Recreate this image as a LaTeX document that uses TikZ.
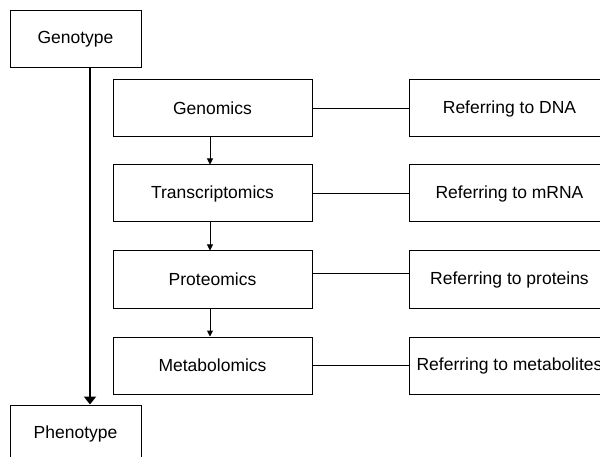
\documentclass[tikz,border=0pt]{standalone}
\usepackage{fontspec}
\setmainfont{Liberation Sans}
\usetikzlibrary{arrows.meta}
\begin{document}
\begin{tikzpicture}[x=1pt,y=-1pt,
  box/.style={draw=black,line width=1pt,inner sep=0pt,minimum height=57pt,
    font=\fontsize{17.5}{21}\selectfont},
  endbox/.style={box,minimum width=131pt},
  omicbox/.style={box,minimum width=199pt},
  refbox/.style={box,minimum width=201pt},
  flow/.style={draw=black,line width=1pt,-{Triangle[width=6pt,length=6pt]}},
  mainflow/.style={draw=black,line width=2.6pt,-{Triangle[width=12pt,length=8pt]}},
  link/.style={draw=black,line width=1pt}]
\clip (0,0) rectangle (600,457);
\useasboundingbox (0,0) rectangle (600,457);
\fill[white] (0,0) rectangle (600,457);

% genotype / phenotype column
\node[endbox] (geno)  at (75.5,39.5)  {Genotype};
\node[endbox] (pheno) at (75.5,433.5) {Phenotype};

% omics levels
\node[omicbox] (gen)  at (212.5,108.5) {Genomics};
\node[omicbox] (tra)  at (212.5,193.5) {Transcriptomics};
\node[omicbox] (pro)  at (212.5,279.5) {Proteomics};
\node[omicbox] (met)  at (212.5,365.5) {Metabolomics};

% what each level refers to
\node[refbox] (rdna) at (509.5,108.5) {Referring to DNA};
\node[refbox] (rrna) at (509.5,193.5) {Referring to mRNA};
\node[refbox] (rpro) at (509.5,279.5) {Referring to proteins};
\node[refbox] (rmet) at (509.5,365.5) {Referring to metabolites};

% connectors
\draw[mainflow] ([xshift=14.5pt]geno.south) -- ([xshift=14.5pt]pheno.north);
\draw[flow] ([xshift=-2.5pt]gen.south) -- ([xshift=-2.5pt]tra.north);
\draw[flow] ([xshift=-2.5pt]tra.south) -- ([xshift=-2.5pt]pro.north);
\draw[flow] ([xshift=-2.5pt]pro.south) -- ([xshift=-2.5pt]met.north);
\draw[link] (gen.east) -- (rdna.west);
\draw[link] (tra.east) -- (rrna.west);
\draw[link] ([yshift=6pt]pro.east) -- ([yshift=6pt]rpro.west);
\draw[link] (met.east) -- (rmet.west);
\end{tikzpicture}
\end{document}
